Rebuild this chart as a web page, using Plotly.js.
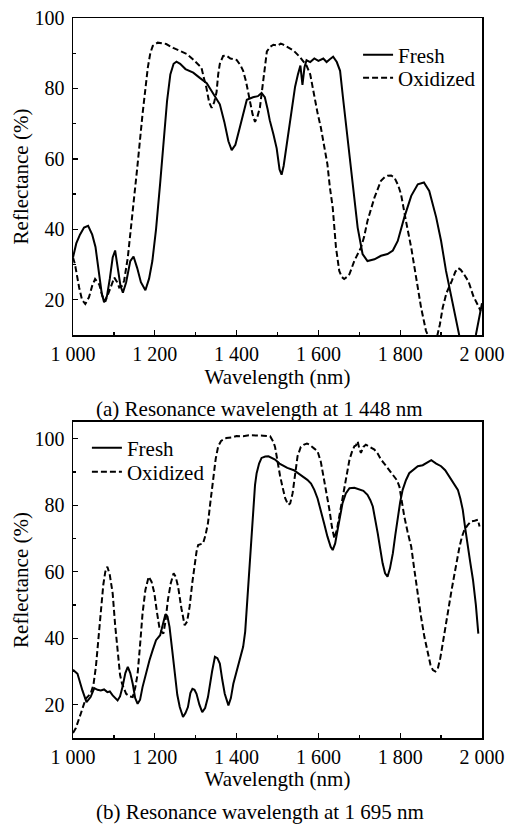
<!DOCTYPE html>
<html>
<head>
<meta charset="utf-8">
<script src="https://cdn.plot.ly/plotly-3.0.1.min.js"></script>
<style>html,body{margin:0;padding:0;background:#fff;}#chart{width:514px;height:825px;}</style>
</head>
<body>
<div id="chart"></div>
<script>
// ---------- (a) Resonance wavelength at 1 448 nm ----------
const aFreshWl = [1000,1008,1017,1027,1037,1047,1055,1063,1070,1076,1083,1090,1097,1103,1110,1116,1122,1130,1140,1148,1157,1166,1177,1186,1194,1203,1213,1221,1230,1238,1246,1253,1262,1275,1294,1310,1327,1343,1359,1370,1380,1388,1397,1408,1418,1425,1440,1452,1461,1469,1476,1481,1490,1498,1505,1510,1515,1520,1531,1543,1550,1556,1561,1566,1571,1580,1590,1600,1612,1620,1628,1636,1645,1653,1660,1671,1684,1696,1708,1720,1737,1753,1769,1782,1794,1810,1827,1843,1858,1871,1888,1900,1912,1924,1937,1946,1960,1975,1985,1993,2000];
const aFreshR = [32,36,38.5,40.5,41,38.5,35,28,22,19.3,21,26,32,34,29,24,22,25,31,32.3,29,25,22.7,26,31,40,53,65,76.5,84,87,87.6,87,85.5,84.5,83,81.5,78.5,75.5,70.5,65,62.5,64,69,74,76.8,77.5,77.8,78.7,77.5,74,71,67,63,57,55.5,58,62,72,80.5,84,86.5,81,86,88,87.5,88.5,87.8,88.5,87.5,88.3,89,87.5,85,77.5,66,54,40.5,33,31,31.5,32.5,33,34,36.7,43.4,49.5,52.8,53.3,50.9,43.4,36.7,28.2,21.6,14,9,6,6,10,15,19];

const aOxWl = [1000,1005,1015,1022,1030,1039,1047,1054,1064,1072,1079,1089,1101,1108,1113,1120,1125,1134,1146,1158,1170,1178,1183,1189,1195,1207,1218,1228,1245,1261,1278,1293,1305,1314,1320,1326,1333,1339,1345,1351,1355,1359,1367,1375,1385,1400,1410,1416,1423,1429,1439,1445,1451,1457,1462,1466,1470,1474,1482,1490,1500,1508,1513,1525,1539,1555,1571,1580,1590,1598,1606,1614,1622,1628,1635,1643,1651,1657,1663,1670,1676,1688,1704,1712,1720,1737,1753,1762,1769,1778,1786,1795,1802,1814,1827,1839,1851,1863,1873,1882,1889,1897,1904,1913,1926,1935,1942,1948,1954,1967,1979,1991,1997];
const aOxR = [32,30,23.5,20,18.8,20.7,24,25.9,24.4,21,19.5,22.5,26.3,25,23.5,24,25.4,32,44.3,58.5,72.7,81,86,90,92.1,93,92.8,92.6,91.5,90.7,89.8,88.3,87,85.9,83,80.3,76,74.5,76,79,84,87,89.2,89.3,88.5,88.1,86.5,85,82,78.4,72.7,70.5,72,74.6,79,83,87.5,90.5,91.8,92.4,92.2,92.7,92.5,91.6,90.8,88.9,86.5,84,77.4,73,68.9,64,58.5,52,46.2,34.8,28.2,26.5,25.9,26.5,27.3,31.1,34.8,38,42.4,49,53.8,54.8,55.2,55.3,54.7,52.5,50,42.4,34.8,26.3,17.8,11.2,8,6,9,13,17.8,21.9,25.3,28,29,28.5,27.6,25.2,21,18.2,16.8];

// ---------- (b) Resonance wavelength at 1 695 nm ----------
const bFreshWl = [1000,1011,1023,1033,1043,1052,1060,1068,1076,1084,1090,1097,1109,1115,1121,1128,1134,1140,1146,1152,1158,1164,1170,1178,1187,1195,1203,1213,1220,1226,1231,1236,1242,1248,1255,1261,1269,1275,1281,1287,1292,1297,1302,1309,1316,1323,1330,1340,1347,1353,1359,1365,1371,1380,1386,1392,1400,1408,1416,1421,1425,1429,1433,1437,1441,1445,1449,1455,1461,1470,1478,1486,1494,1505,1524,1540,1557,1573,1582,1590,1598,1606,1614,1622,1630,1635,1641,1647,1653,1659,1667,1676,1688,1700,1710,1720,1727,1733,1739,1745,1751,1757,1763,1769,1775,1782,1788,1794,1800,1806,1814,1822,1832,1843,1855,1865,1876,1888,1900,1910,1920,1930,1941,1947,1953,1959,1965,1971,1978,1985,1991];
const bFreshR = [30.5,29.3,24.3,20.8,22.3,25,24.5,24.3,24.6,23.8,24,22.8,21.3,22.5,25.3,29.5,31.4,29.5,26.3,22,20.3,21.5,25.3,29.5,33.4,36.5,39.4,40.9,44.5,47.2,46.5,43.4,37,30.4,23,19.3,16.3,17.5,19.3,23.5,24.8,24.5,23.3,20,17.8,19,22.3,30,34.4,34,32.4,27.5,23.3,19.8,22,26.3,30,33.4,37.4,42,49.4,57,65.5,73,80.6,86,89.6,92.5,94.2,94.6,94.7,94.2,93.7,92.5,91.2,90.5,89.1,87.6,86.5,84.6,82,78.6,74.5,70.6,67.5,66.5,68.5,72.6,77,80.6,83.5,85.1,85.2,84.6,84.3,83.1,81.5,79.6,76,71.6,67,62.5,59.5,58.5,61,65.5,71,76.6,81,84.6,87.5,89.6,90.5,91.7,92,92.8,93.5,92.5,91.7,90.5,88.6,86.5,84.6,82,78.6,73,67.5,63,57.5,50,41.4];

const bOxWl = [1000,1007,1019,1031,1043,1050,1056,1062,1068,1074,1079,1084,1090,1097,1103,1109,1115,1120,1130,1138,1146,1152,1158,1164,1170,1177,1185,1192,1199,1205,1211,1216,1221,1226,1232,1239,1246,1251,1257,1265,1273,1279,1285,1292,1298,1302,1306,1312,1318,1324,1330,1336,1343,1349,1355,1362,1375,1390,1400,1416,1430,1449,1465,1482,1490,1494,1500,1506,1512,1519,1526,1531,1537,1543,1549,1557,1565,1572,1578,1590,1598,1606,1614,1620,1627,1633,1639,1645,1651,1657,1663,1670,1676,1682,1688,1692,1696,1700,1704,1710,1716,1726,1737,1745,1753,1761,1769,1778,1786,1792,1798,1804,1810,1818,1827,1833,1839,1845,1851,1859,1867,1874,1880,1886,1892,1898,1904,1910,1916,1925,1933,1939,1945,1951,1957,1965,1973,1982,1990,1994];
const bOxR = [11.5,13,17.3,21.8,23.3,26,31.4,40,49.4,56,60,61.5,59,53.5,44,35.4,29,26.3,23.3,22.5,22.3,25,29.3,38,47.4,54.5,58.5,57,53.5,48,43.4,42,41.4,45,51.5,56.5,59.5,58.5,55.5,49,43.9,45,49.4,57,62.5,66,68,68.2,68.5,71,74.6,81,88.6,94,97.7,99.3,100.2,100.4,100.8,100.7,101,101,100.9,100.7,99,97.5,92.7,89,85.6,82,80.1,80.5,83.6,89,94.7,97.5,98.2,98.5,98.2,97,96.2,93,87.6,83,78.6,73.5,70,72.5,76.6,81,85.6,90,93.7,96,97.7,98,99.2,97,95.7,97.5,98.2,97.5,96.7,95.5,93.7,92.5,91.2,90,88.6,87.5,85.6,81,76.6,72,67.5,62,56.5,51,46.4,40.5,35.4,32,30.4,30,30.9,34,38.4,43,48.4,54,59.5,64,67.5,70.5,72.6,74,75.1,75.3,75.6,73.6];

// ---------- ticks & labels ----------
const xTickVals = [1000,1200,1400,1600,1800,2000];
const xTickText = ['1 000','1 200','1 400','1 600','1 800','2 000'];
const xMinorVals = [1100,1300,1500,1700,1900];
const yTickVals = [20,40,60,80,100];
const yTickText = ['20','40','60','80','100'];
const yMinorVals = [10,30,50,70,90];
const seriesNames = ['Fresh','Oxidized'];
const xTitle = 'Wavelength (nm)';
const yTitle = 'Reflectance (%)';
const captions = ['(a) Resonance wavelength at 1 448 nm','(b) Resonance wavelength at 1 695 nm'];

const FONT = 'Liberation Serif';
const FS = 20;   // tick labels
const FT = 21;   // titles, legend, captions

const solid = {color:'#000', width:2, dash:'solid'};
const dashed = {color:'#000', width:2, dash:'6px,3px'};

const traces = [
  {x:aFreshWl, y:aFreshR, name:seriesNames[0], mode:'lines', line:solid, xaxis:'x', yaxis:'y', legend:'legend'},
  {x:aOxWl, y:aOxR, name:seriesNames[1], mode:'lines', line:dashed, xaxis:'x', yaxis:'y', legend:'legend2'},
  {x:bFreshWl, y:bFreshR, name:seriesNames[0], mode:'lines', line:solid, xaxis:'x2', yaxis:'y2', legend:'legend3'},
  {x:bOxWl, y:bOxR, name:seriesNames[1], mode:'lines', line:dashed, xaxis:'x2', yaxis:'y2', legend:'legend4'}
];

function xAxis(anchor){
  return {
    anchor: anchor, domain:[0,1], range:[1000,2000],
    tickmode:'array', tickvals:xTickVals, ticktext:xTickText,
    ticks:'inside', ticklen:5, tickwidth:1.3, tickcolor:'#000',
    minor:{tickmode:'array', tickvals:xMinorVals, ticks:'inside', ticklen:3, tickwidth:1.3, tickcolor:'#000'},
    showline:true, linecolor:'#000', linewidth:1.5, mirror:true,
    showgrid:false, zeroline:false,
    tickfont:{family:FONT, size:FS, color:'#000'},
    title:{text:xTitle, font:{family:FONT, size:FT, color:'#000'}, standoff:4}
  };
}
function yAxis(anchor, domain, range){
  return {
    anchor: anchor, domain:domain, range:range,
    tickmode:'array', tickvals:yTickVals, ticktext:yTickText,
    ticks:'inside', ticklen:5, tickwidth:1.3, tickcolor:'#000',
    minor:{tickmode:'array', tickvals:yMinorVals, ticks:'inside', ticklen:3, tickwidth:1.3, tickcolor:'#000'},
    showline:true, linecolor:'#000', linewidth:1.5, mirror:true,
    showgrid:false, zeroline:false, ticklabelstandoff:3,
    tickfont:{family:FONT, size:FS, color:'#000'},
    title:{text:yTitle, font:{family:FONT, size:FT, color:'#000'}, standoff:0}
  };
}
function leg(x, yPx){
  return {x:x, y:1-(yPx-18)/720, xanchor:'left', yanchor:'middle', bgcolor:'rgba(0,0,0,0)', borderwidth:0,
          font:{family:FONT, size:FT, color:'#000'}, tracegroupgap:0, itemwidth:30};
}

const layout = {
  width:514, height:825,
  margin:{l:73, r:32, t:18, b:87},
  paper_bgcolor:'#fff', plot_bgcolor:'#fff',
  font:{family:FONT, size:FS, color:'#000'},
  xaxis: xAxis('y'),
  yaxis: yAxis('x', [0.5597,1], [10,100]),
  xaxis2: xAxis('y2'),
  yaxis2: yAxis('x2', [0,0.4389], [10,105]),
  legend: leg(0.697, 55),
  legend2: leg(0.697, 78),
  legend3: leg(0.034, 448),
  legend4: leg(0.034, 472),
  annotations:[
    {text:captions[0], xref:'paper', yref:'paper', x:0.457, y:1-(409-18)/720, xanchor:'center', yanchor:'middle', showarrow:false, font:{family:FONT, size:FT, color:'#000'}},
    {text:captions[1], xref:'paper', yref:'paper', x:0.457, y:1-(812-18)/720, xanchor:'center', yanchor:'middle', showarrow:false, font:{family:FONT, size:FT, color:'#000'}}
  ],
  showlegend:true
};

Plotly.newPlot('chart', traces, layout, {displayModeBar:false, staticPlot:true});
</script>
</body>
</html>
